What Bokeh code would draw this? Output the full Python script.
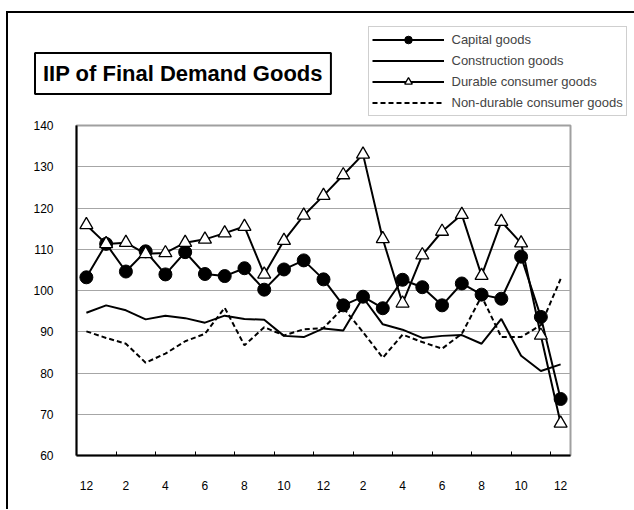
from bokeh.plotting import figure
from bokeh.models import FixedTicker, Legend, LegendItem, Range1d, LinearAxis
from bokeh.embed import file_html
from bokeh.resources import INLINE

# ---- data ----
months = [12, 1, 2, 3, 4, 5, 6, 7, 8, 9, 10, 11, 12, 1, 2, 3, 4, 5, 6, 7, 8, 9, 10, 11, 12]
tick_labels = ["12", "2", "4", "6", "8", "10", "12", "2", "4", "6", "8", "10", "12"]
capital = [103.2, 111.3, 104.6, 109.5, 103.9, 109.3, 104.0, 103.5, 105.4, 100.2, 105.1, 107.3,
           102.7, 96.4, 98.5, 95.7, 102.6, 100.8, 96.4, 101.7, 99.0, 98.0, 108.2, 93.6, 73.7]
construction = [94.6, 96.4, 95.2, 93.0, 93.9, 93.3, 92.2, 93.9, 93.1, 92.9, 89.0, 88.7,
                90.8, 90.3, 98.3, 91.8, 90.5, 88.5, 89.0, 89.2, 87.1, 93.1, 84.2, 80.5, 82.1]
durable = [115.9, 111.3, 111.6, 108.9, 109.1, 111.6, 112.4, 113.9, 115.5, 103.9, 112.1, 118.2,
           123.0, 128.0, 133.0, 112.5, 96.9, 108.6, 114.3, 118.4, 103.6, 116.7, 111.5, 89.1, 67.8]
nondurable = [90.1, 88.5, 87.1, 82.5, 84.7, 87.7, 89.5, 95.8, 86.7, 91.1, 89.1, 90.6,
              90.9, 95.8, 89.9, 83.7, 89.3, 87.5, 85.9, 89.5, 98.6, 88.7, 88.7, 91.6, 102.8]
y_ticks = [60, 70, 80, 90, 100, 110, 120, 130, 140]

x = list(range(len(months)))
n = len(months)

FONT = "Liberation Sans"

p = figure(width=625, height=496, frame_width=494, frame_height=330,
           min_border_left=68, min_border_right=63, min_border_top=112, min_border_bottom=54,
           x_range=Range1d(-0.5, n - 0.5), y_range=Range1d(60, 140),
           output_backend="svg", toolbar_location=None)
p.styles = {"border-left": "2.5px solid black", "border-top": "2.5px solid black",
            "margin-left": "6px", "margin-top": "11px"}
p.outline_line_color = "#a0a0a0"
p.outline_line_width = 2
p.background_fill_color = "white"
p.border_fill_color = "white"

# title in a box
p.title.text = "IIP of Final Demand Goods"
p.title.text_font = FONT
p.title.text_font_size = "22px"
p.title.text_font_style = "bold"
p.title.text_color = "black"
p.title.align = "left"
p.title.vertical_align = "top"
p.title.offset = -41.5
p.title.standoff = 59
p.title.border_line_color = "black"
p.title.border_line_width = 2
p.title.padding = 8

# grid
p.xgrid.visible = False
p.ygrid.grid_line_color = "#a6a6a6"
p.ygrid.grid_line_width = 1
p.ygrid.ticker = FixedTicker(ticks=y_ticks)

# axes
p.yaxis.ticker = FixedTicker(ticks=y_ticks)
p.yaxis.major_tick_in = 0
p.yaxis.major_tick_out = 0
p.yaxis.minor_tick_in = 0
p.yaxis.minor_tick_out = 0
p.yaxis.axis_line_color = "black"
p.yaxis.axis_line_width = 2
p.yaxis.major_label_standoff = 23
p.yaxis.major_label_text_font = FONT
p.yaxis.major_label_text_font_size = "12px"
p.yaxis.major_label_text_color = "black"

label_pos = list(range(0, n, 2))
xax = p.below[0]
xax.ticker = FixedTicker(ticks=label_pos, minor_ticks=[i + 1.5 for i in range(0, n - 1, 2)])
xax.major_label_overrides = {pos: lab for pos, lab in zip(label_pos, tick_labels)}
xax.major_tick_in = 0
xax.major_tick_out = 0
xax.minor_tick_in = 4
xax.minor_tick_out = 0
xax.minor_tick_line_color = "black"
xax.axis_line_color = "black"
xax.axis_line_width = 2
xax.major_label_standoff = 25
xax.major_label_text_font = FONT
xax.major_label_text_font_size = "12px"
xax.major_label_text_color = "black"

# empty spacer between the frame and the title (no ticks, no line, no labels)
spacer = LinearAxis(ticker=FixedTicker(ticks=[]), major_tick_out=9, major_tick_in=0,
                    minor_tick_out=0, minor_tick_in=0, axis_line_color=None,
                    major_label_standoff=0)
p.add_layout(spacer, "above")

# series
l_cap = p.line(x, capital, line_color="black", line_width=2)
s_cap = p.scatter(x, capital, marker="circle", size=13, fill_color="black", line_color="black")
l_con = p.line(x, construction, line_color="black", line_width=2)
l_dur = p.line(x, durable, line_color="black", line_width=2)
s_dur = p.scatter(x, durable, marker="triangle", size=13, fill_color="white", line_color="black",
                  line_width=1.3)
l_non = p.line(x, nondurable, line_color="black", line_width=2, line_dash="5 3")

legend = Legend(items=[
    LegendItem(label="Capital goods", renderers=[l_cap, s_cap]),
    LegendItem(label="Construction goods", renderers=[l_con]),
    LegendItem(label="Durable consumer goods", renderers=[l_dur, s_dur]),
    LegendItem(label="Non-durable consumer goods", renderers=[l_non]),
], location=(-202.5, 339.5), glyph_width=72, glyph_height=19, spacing=2, padding=3,
    label_standoff=8, label_text_font=FONT, label_text_font_size="13px",
    label_height=19, border_line_color="#a0a0a0", border_line_width=1,
    background_fill_color="white", background_fill_alpha=1, margin=-140)
p.add_layout(legend, "right")

open("out.html", "w").write(file_html(p, INLINE))
